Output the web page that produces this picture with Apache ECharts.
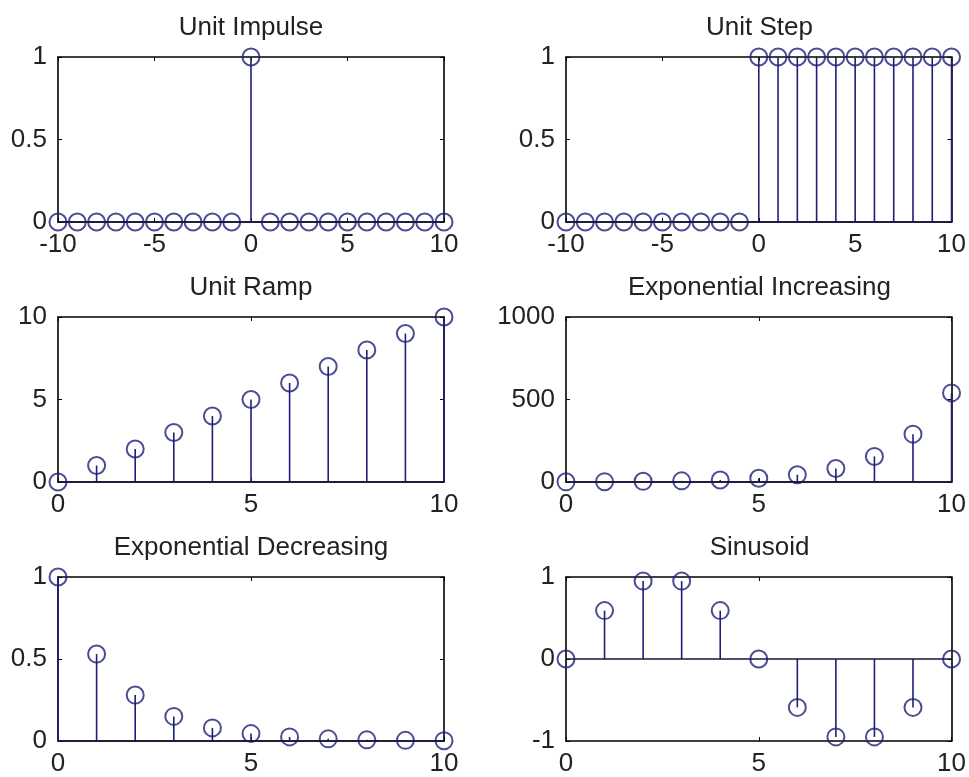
<!DOCTYPE html>
<html>
<head>
<meta charset="utf-8">
<script src="https://cdn.jsdelivr.net/npm/echarts@6/dist/echarts.min.js"></script>
<style>
html,body{margin:0;padding:0;background:#fff;}
#chart{width:969px;height:777px;}
</style>
</head>
<body>
<div id="chart"></div>
<script>
// ---- data ----
const titles = ['Unit Impulse', 'Unit Step', 'Unit Ramp', 'Exponential Increasing', 'Exponential Decreasing', 'Sinusoid'];
const nFull = [-10, -9, -8, -7, -6, -5, -4, -3, -2, -1, 0, 1, 2, 3, 4, 5, 6, 7, 8, 9, 10];
const nHalf = [0, 1, 2, 3, 4, 5, 6, 7, 8, 9, 10];
const impulseY = [0, 0, 0, 0, 0, 0, 0, 0, 0, 0, 1, 0, 0, 0, 0, 0, 0, 0, 0, 0, 0];
const stepY = [0, 0, 0, 0, 0, 0, 0, 0, 0, 0, 1, 1, 1, 1, 1, 1, 1, 1, 1, 1, 1];
const rampY = [0, 1, 2, 3, 4, 5, 6, 7, 8, 9, 10];
const expIncY = [1, 2, 4, 7, 12, 23, 44, 82, 155, 290, 540];
const expDecY = [1, 0.53, 0.28, 0.15, 0.08, 0.045, 0.025, 0.013, 0.007, 0.004, 0.002];
const sinY = [0, 0.59, 0.95, 0.95, 0.59, 0, -0.59, -0.95, -0.95, -0.59, 0];
// axis ranges: [min, max, tick interval]
const xRanges = [[-10, 10, 5], [-10, 10, 5], [0, 10, 5], [0, 10, 5], [0, 10, 5], [0, 10, 5]];
const yRanges = [[0, 1, 0.5], [0, 1, 0.5], [0, 10, 5], [0, 1000, 500], [0, 1, 0.5], [-1, 1, 1]];
const xData = [nFull, nFull, nHalf, nHalf, nHalf, nHalf];
const yData = [impulseY, stepY, rampY, expIncY, expDecY, sinY];

// ---- styles ----
const FONT = '"Liberation Sans", Arial, sans-serif';
const STEM = '#1f1f78';
const BASE = '#16163e';
const gridLefts = [58, 566];
const gridWidths = [386, 387];
const gridTops = [57, 317, 577];
const gridH = 165;

const grids = [], xAxes = [], yAxes = [], series = [], titleOpts = [];
const lineStyle = {color: '#000', width: 1.6};
const fmt = v => String(v);

for (let i = 0; i < 6; i++) {
  const col = i % 2, row = Math.floor(i / 2);
  grids.push({left: gridLefts[col], top: gridTops[row], width: gridWidths[col], height: gridH, containLabel: false});
  titleOpts.push({
    text: titles[i],
    left: gridLefts[col] + gridWidths[col] / 2,
    top: gridTops[row] - 42,
    textAlign: 'center',
    padding: 0,
    textStyle: {fontFamily: FONT, fontSize: 26, fontWeight: 'normal', color: '#222'}
  });
  const [xmin, xmax, xint] = xRanges[i];
  const [ymin, ymax, yint] = yRanges[i];
  const baseX = {
    type: 'value', gridIndex: i, min: xmin, max: xmax, interval: xint,
    axisLine: {show: true, onZero: false, lineStyle},
    axisTick: {show: true, inside: true, length: 4, lineStyle: {color: '#000', width: 1}},
    splitLine: {show: false}
  };
  xAxes.push(Object.assign({}, baseX, {
    position: 'bottom',
    axisLabel: {show: true, margin: 10, fontFamily: FONT, fontSize: 26, color: '#222', formatter: fmt}
  }));
  xAxes.push(Object.assign({}, baseX, {position: 'top', axisLabel: {show: false}}));
  const baseY = {
    type: 'value', gridIndex: i, min: ymin, max: ymax, interval: yint,
    axisLine: {show: true, onZero: false, lineStyle},
    axisTick: {show: true, inside: true, length: 4, lineStyle: {color: '#000', width: 1}},
    splitLine: {show: false}
  };
  yAxes.push(Object.assign({}, baseY, {
    position: 'left',
    axisLabel: {show: true, margin: 11, fontFamily: FONT, fontSize: 26, color: '#222', formatter: fmt}
  }));
  yAxes.push(Object.assign({}, baseY, {position: 'right', axisLabel: {show: false}}));

  const pts = xData[i].map((x, k) => [x, yData[i][k]]);
  series.push({
    type: 'custom',
    xAxisIndex: 2 * i, yAxisIndex: 2 * i,
    data: pts,
    encode: {x: 0, y: 1},
    clip: false,
    z: 3,
    renderItem: function (params, api) {
      const p0 = api.coord([api.value(0), 0]);
      const p1 = api.coord([api.value(0), api.value(1)]);
      return {type: 'line', shape: {x1: p0[0], y1: p0[1], x2: p1[0], y2: p1[1]},
              style: {stroke: STEM, lineWidth: 1.6}};
    },
    markLine: {
      silent: true, symbol: ['none', 'none'], label: {show: false},
      lineStyle: {color: BASE, width: 1.6, type: 'solid'},
      data: [{yAxis: 0}],
      animation: false
    }
  });
  series.push({
    type: 'scatter',
    xAxisIndex: 2 * i, yAxisIndex: 2 * i,
    data: pts,
    symbol: 'circle',
    symbolSize: 17,
    clip: false,
    z: 4,
    itemStyle: {color: 'rgba(0,0,0,0)', borderColor: STEM, borderWidth: 2}
  });
}

const chart = echarts.init(document.getElementById('chart'), null, {renderer: 'canvas'});
chart.setOption({
  backgroundColor: '#fff',
  animation: false,
  title: titleOpts,
  grid: grids,
  xAxis: xAxes,
  yAxis: yAxes,
  series: series
});
</script>
</body>
</html>
